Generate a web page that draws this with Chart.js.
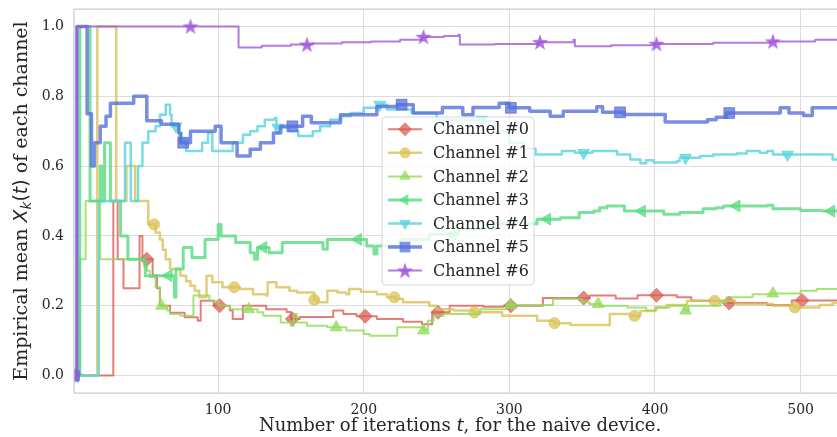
<!DOCTYPE html>
<html><head><meta charset="utf-8">
<script src="https://cdn.jsdelivr.net/npm/chart.js@4.4.1/dist/chart.umd.min.js"></script>
<style>html,body{margin:0;padding:0;background:#fff;overflow:hidden}canvas{display:block}</style>
</head><body><canvas id="c" width="837" height="437"></canvas>
<script>
// ---------------- data ----------------
const channelNames = ['Channel #0','Channel #1','Channel #2','Channel #3','Channel #4','Channel #5','Channel #6'];
const channelColors = ['#db5f57','#dbc257','#91db57','#57db80','#57d3db','#5770db','#a157db'];
const xTicks = [100,200,300,400,500];
const yTicks = [0.0,0.2,0.4,0.6,0.8,1.0];
const markEvery = [50,55,60,65,70,75,80];
const xTitle = ['Number of iterations ','t',', for the naive device.'];
const yTitle = ['Empirical mean ','X','k','(','t',')',' of each channel'];

// [iteration t, empirical mean] change points (value held until next point)
const ch0 = [[1,0],[28,0.5],[31,0.333],[35,0.25],[46,0.4],[48,0.333],[55,0.286],[58,0.25],[60,0.2],[67,0.18],[77,0.167],[86,0.157],[88,0.214],[97,0.2],[108,0.186],[110,0.162],[117,0.2],[133,0.19],[147,0.182],[150,0.162],[156,0.168],[179,0.186],[186,0.176],[195,0.17],[209,0.162],[227,0.154],[240,0.147],[247,0.181],[259,0.2],[282,0.197],[296,0.2],[323,0.222],[355,0.229],[373,0.221],[388,0.23],[415,0.224],[425,0.214],[450,0.208],[477,0.202],[494,0.215],[525,0.214]];
const ch1 = [[1,0],[17,1.0],[30,0.5],[37,0.6],[43,0.5],[52,0.433],[57,0.41],[60,0.39],[62,0.36],[64,0.333],[67,0.305],[74,0.286],[78,0.27],[81,0.257],[84,0.243],[87,0.224],[92,0.286],[96,0.267],[103,0.253],[115,0.248],[124,0.233],[133,0.229],[134,0.267],[140,0.253],[149,0.243],[154,0.238],[166,0.217],[168,0.21],[175,0.243],[182,0.238],[188,0.233],[190,0.248],[198,0.24],[209,0.233],[216,0.224],[222,0.219],[227,0.21],[245,0.2],[250,0.19],[262,0.186],[276,0.181],[295,0.171],[319,0.157],[331,0.15],[342,0.145],[369,0.176],[383,0.171],[390,0.185],[400,0.195],[408,0.202],[422,0.214],[441,0.214],[455,0.205],[481,0.2],[496,0.195],[513,0.202],[522,0.208],[525,0.208]];
const ch2 = [[1,0],[5,0.333],[9,0.5],[19,0.333],[49,0.314],[51,0.3],[53,0.282],[57,0.253],[60,0.2],[65,0.186],[67,0.176],[74,0.171],[83,0.229],[94,0.214],[100,0.2],[108,0.19],[127,0.181],[131,0.171],[143,0.152],[150,0.143],[152,0.176],[154,0.152],[161,0.143],[175,0.138],[188,0.129],[200,0.119],[204,0.114],[223,0.138],[241,0.129],[244,0.157],[248,0.171],[255,0.176],[280,0.19],[298,0.202],[330,0.219],[350,0.21],[355,0.205],[362,0.2],[381,0.195],[394,0.186],[401,0.195],[410,0.2],[420,0.186],[423,0.2],[445,0.21],[449,0.224],[467,0.233],[480,0.235],[500,0.243],[511,0.248],[525,0.248]];
const ch3 = [[1,0],[5,1.0],[12,0.5],[19,0.6],[20,0.5],[22,0.667],[26,0.5],[33,0.4],[38,0.333],[50,0.286],[70,0.225],[71,0.305],[76,0.367],[82,0.338],[91,0.39],[100,0.433],[102,0.4],[112,0.381],[122,0.352],[125,0.333],[127,0.367],[135,0.352],[144,0.381],[172,0.362],[175,0.39],[202,0.371],[207,0.348],[209,0.371],[225,0.39],[245,0.405],[265,0.42],[290,0.435],[319,0.448],[335,0.452],[348,0.467],[358,0.471],[362,0.481],[367,0.486],[379,0.471],[406,0.462],[417,0.467],[433,0.478],[442,0.481],[447,0.486],[477,0.488],[481,0.478],[500,0.473],[515,0.471],[525,0.471]];
const ch4 = [[1,0],[18,0.5],[36,0.667],[40,0.5],[45,0.6],[48,0.667],[52,0.7],[57,0.714],[60,0.747],[64,0.776],[67,0.747],[68,0.714],[73,0.695],[75,0.676],[78,0.643],[89,0.667],[93,0.695],[96,0.643],[110,0.667],[117,0.69],[122,0.7],[127,0.714],[132,0.733],[139,0.738],[140,0.71],[149,0.7],[155,0.686],[165,0.7],[170,0.714],[177,0.733],[184,0.743],[191,0.752],[200,0.767],[209,0.776],[216,0.762],[233,0.752],[250,0.733],[283,0.729],[290,0.7],[300,0.667],[310,0.65],[318,0.633],[336,0.643],[345,0.638],[357,0.643],[374,0.633],[383,0.619],[390,0.608],[394,0.617],[399,0.61],[415,0.614],[417,0.624],[431,0.629],[440,0.633],[456,0.636],[463,0.643],[472,0.638],[477,0.643],[481,0.633],[522,0.619],[525,0.619]];
const ch5 = [[1,0],[3,1.0],[10,0.75],[13,0.6],[15,0.667],[19,0.714],[23,0.743],[26,0.78],[42,0.8],[51,0.73],[61,0.72],[73,0.695],[74,0.667],[81,0.7],[98,0.714],[102,0.667],[113,0.629],[122,0.648],[129,0.667],[138,0.695],[143,0.714],[158,0.743],[164,0.724],[184,0.747],[209,0.771],[223,0.776],[234,0.752],[254,0.768],[268,0.747],[275,0.768],[293,0.78],[300,0.767],[314,0.757],[328,0.743],[337,0.757],[360,0.77],[364,0.754],[379,0.748],[407,0.726],[436,0.733],[442,0.74],[449,0.752],[486,0.767],[492,0.752],[502,0.745],[508,0.767],[525,0.767]];
const ch6 = [[1,0],[3,1.0],[114,0.94],[130,0.945],[150,0.948],[165,0.951],[185,0.955],[205,0.957],[225,0.962],[240,0.97],[255,0.973],[265,0.976],[266,0.948],[290,0.95],[320,0.955],[344,0.962],[345,0.943],[370,0.946],[400,0.95],[440,0.953],[480,0.957],[510,0.962],[525,0.962]];
const channelSeries = [ch0,ch1,ch2,ch3,ch4,ch5,ch6];

// ---------------- styles ----------------
const lineWidths = [2,2.5,2,3,2.5,3.5,2];
const alphaLine = 0.8;
const SERIF = '"DejaVu Serif", serif';
const SANS = '"DejaVu Sans", sans-serif';
const TEXT = '#262626';
const XMIN = 1, XMAX = 525;

function rgba(hex,a){const n=parseInt(hex.slice(1),16);return `rgba(${n>>16},${(n>>8)&255},${n&255},${a})`;}
function makeStar(color){
  const c=document.createElement('canvas');c.width=18;c.height=18;
  const g=c.getContext('2d');g.fillStyle=color;g.beginPath();
  for(let i=0;i<10;i++){const r=i%2?3.4:8.6;const a=-Math.PI/2+i*Math.PI/5;const px=9+r*Math.cos(a),py=9.6+r*Math.sin(a);i?g.lineTo(px,py):g.moveTo(px,py);}
  g.closePath();g.fill();return c;
}
const starImg = makeStar(rgba(channelColors[6],0.85));
const markerStyles = [
  {style:'rectRot',radius:7,rot:0},
  {style:'circle',radius:5.5,rot:0},
  {style:'triangle',radius:6.8,rot:0},
  {style:'triangle',radius:6.8,rot:-90},
  {style:'triangle',radius:6.8,rot:180},
  {style:'rect',radius:7.6,rot:0},
  {style:starImg,radius:7,rot:0}
];

function valueAt(series,t){let v=series[0][1];for(const p of series){if(p[0]<=t)v=p[1];else break;}return v;}

const datasets=[];
channelSeries.forEach((s,k)=>{
  const col=channelColors[k];
  datasets.push({label:channelNames[k],data:s.map(p=>({x:p[0],y:p[1]})),borderColor:rgba(col,alphaLine),borderWidth:lineWidths[k],stepped:true,pointRadius:0,fill:false,borderJoinStyle:'round',order:100-2*k});
  const marks=[];for(let t=1;t<=XMAX;t+=markEvery[k])marks.push({x:t,y:valueAt(s,t)});
  const m=markerStyles[k];
  datasets.push({label:channelNames[k]+' markers',data:marks,showLine:false,pointStyle:m.style,pointRadius:m.radius,pointRotation:m.rot,pointBackgroundColor:rgba(col,0.75),pointBorderColor:rgba(col,0.75),pointBorderWidth:1,order:99-2*k});
});

function drawMarker(ctx,k,x,y){
  const m=markerStyles[k];const col=rgba(channelColors[k],0.75);
  if(typeof m.style!=='string'){ctx.drawImage(m.style,x-m.style.width/2,y-m.style.height/2);return;}
  ctx.save();ctx.fillStyle=col;ctx.beginPath();const r=m.radius;
  if(m.style==='circle'){ctx.arc(x,y,r,0,Math.PI*2);}
  else if(m.style==='rect'){const s=Math.SQRT1_2*r;ctx.rect(x-s,y-s,2*s,2*s);}
  else if(m.style==='rectRot'){ctx.moveTo(x,y-r);ctx.lineTo(x+r,y);ctx.lineTo(x,y+r);ctx.lineTo(x-r,y);ctx.closePath();}
  else {let a=m.rot*Math.PI/180;for(let i=0;i<3;i++){const px=x+Math.sin(a)*r,py=y-Math.cos(a)*r;i?ctx.lineTo(px,py):ctx.moveTo(px,py);a+=2*Math.PI/3;}ctx.closePath();}
  ctx.fill();ctx.restore();
}

function drawRich(ctx,parts,x,y){
  let w=0;parts.forEach(p=>{ctx.font=p.f;w+=ctx.measureText(p.t).width;});
  let cx=x-w/2;
  parts.forEach(p=>{ctx.font=p.f;ctx.fillText(p.t,cx,y+(p.dy||0));cx+=ctx.measureText(p.t).width;});
}

const decor={
  id:'decor',
  afterDatasetsDraw(chart){
    const ctx=chart.ctx,a=chart.chartArea;
    ctx.save();
    ctx.strokeStyle='#cccccc';ctx.lineWidth=1.25;
    ctx.beginPath();ctx.moveTo(a.left,a.top);ctx.lineTo(a.right+2,a.top);
    ctx.moveTo(a.left,a.top);ctx.lineTo(a.left,a.bottom);
    ctx.moveTo(a.left,a.bottom);ctx.lineTo(a.right+2,a.bottom);ctx.stroke();
    const lx=382,ly=117,lw=152,lh=168,r=4;
    ctx.beginPath();ctx.moveTo(lx+r,ly);ctx.arcTo(lx+lw,ly,lx+lw,ly+lh,r);ctx.arcTo(lx+lw,ly+lh,lx,ly+lh,r);ctx.arcTo(lx,ly+lh,lx,ly,r);ctx.arcTo(lx,ly,lx+lw,ly,r);ctx.closePath();
    ctx.fillStyle='rgba(255,255,255,0.8)';ctx.fill();ctx.strokeStyle='rgba(204,204,204,0.8)';ctx.lineWidth=1;ctx.stroke();
    ctx.textBaseline='middle';ctx.textAlign='left';
    channelNames.forEach((n,k)=>{
      const y=129.3+k*23.55;
      ctx.strokeStyle=rgba(channelColors[k],alphaLine);ctx.lineWidth=lineWidths[k];
      ctx.beginPath();ctx.moveTo(388,y);ctx.lineTo(422,y);ctx.stroke();
      drawMarker(ctx,k,405,y);
      ctx.fillStyle=TEXT;ctx.font='16px '+SERIF;ctx.fillText(n,433,y+1);
    });
    ctx.restore();
  },
  afterDraw(chart){
    const ctx=chart.ctx;ctx.save();ctx.fillStyle=TEXT;ctx.textBaseline='alphabetic';ctx.textAlign='left';
    const f='18px '+SERIF, fi='italic 18px '+SANS;
    drawRich(ctx,[{t:xTitle[0],f:f},{t:xTitle[1],f:fi},{t:xTitle[2],f:f}],460,431);
    ctx.translate(27,201);ctx.rotate(-Math.PI/2);
    const g='19px '+SERIF, gi='italic 19px '+SANS, gs='19px '+SANS;
    drawRich(ctx,[{t:yTitle[0],f:g},{t:yTitle[1],f:gi},{t:yTitle[2],f:'italic 13.5px '+SANS,dy:4},{t:yTitle[3],f:gs},{t:yTitle[4],f:gi},{t:yTitle[5],f:gs},{t:yTitle[6],f:g}],0,0);
    ctx.restore();
  }
};

new Chart(document.getElementById('c'),{
  type:'line',
  data:{datasets:datasets},
  options:{
    responsive:false,animation:false,devicePixelRatio:1,
    layout:{autoPadding:false,padding:{top:9,right:0,left:0,bottom:0}},
    plugins:{legend:{display:false},tooltip:{enabled:false}},
    scales:{
      x:{type:'linear',min:XMIN,max:XMAX,
        afterBuildTicks:s=>{s.ticks=xTicks.map(v=>({value:v}));},
        afterFit:s=>{s.height=44;s.paddingLeft=0;s.paddingRight=0;},
        grid:{color:'#dddddd',lineWidth:1,drawTicks:false},border:{display:false},
        ticks:{font:{family:SERIF,size:14},color:TEXT,padding:9,maxRotation:0,autoSkip:false,callback:v=>String(v)}},
      y:{type:'linear',min:-0.05,max:1.05,
        afterBuildTicks:s=>{s.ticks=yTicks.map(v=>({value:v}));},
        afterFit:s=>{s.width=74;s.paddingTop=0;s.paddingBottom=0;},
        grid:{color:'#dddddd',lineWidth:1,drawTicks:false},border:{display:false},
        ticks:{font:{family:SERIF,size:14},color:TEXT,padding:10,autoSkip:false,callback:v=>Number(v).toFixed(1)}}
    }
  },
  plugins:[decor]
});
</script></body></html>
